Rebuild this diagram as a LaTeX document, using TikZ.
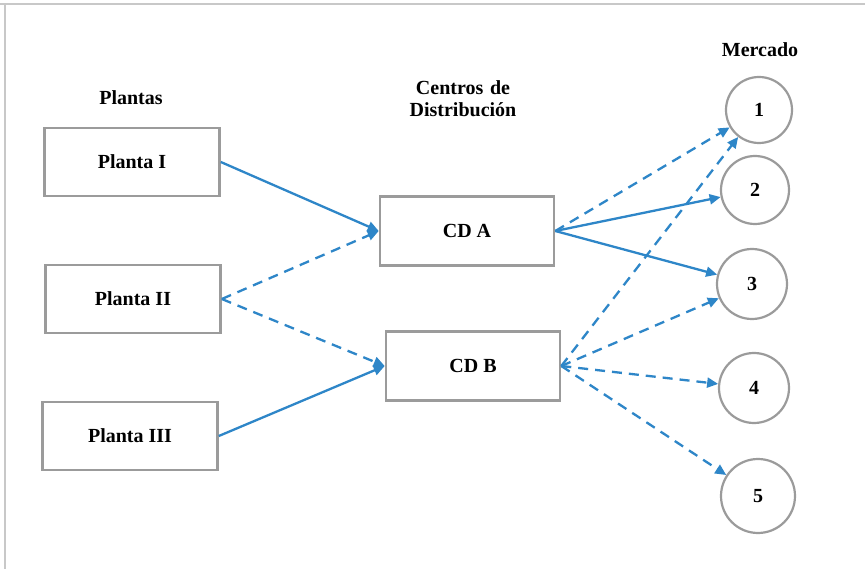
\documentclass[tikz,border=0pt]{standalone}
\usepackage{fontspec}
\setmainfont{Liberation Serif}
\usetikzlibrary{arrows.meta}
\definecolor{flow}{RGB}{46,134,200}
\definecolor{frame}{RGB}{155,155,155}
\definecolor{edge}{RGB}{200,200,200}
\begin{document}
\begin{tikzpicture}[x=1pt,y=-1pt,
  lbl/.style={font=\fontsize{20}{22}\selectfont\bfseries, align=center},
  box/.style={draw=frame, line width=2.6pt, fill=white, minimum width=175pt, minimum height=68pt, inner sep=0pt, lbl},
  mkt/.style={circle, draw=frame, line width=2.2pt, fill=white, inner sep=0pt, lbl},
  route/.style={draw=flow, line width=2.3pt, -{Triangle[length=11pt,width=10pt]}},
  alt/.style={route, dash pattern=on 10pt off 7pt}]
\useasboundingbox (0,0) rectangle (865,569);
\fill[white] (0,0) rectangle (865,569);
% page edges
\draw[edge, line width=2pt] (0,4) -- (865,4);
\draw[edge, line width=2pt] (5,4) -- (5,569);

% column headings
\node[lbl] (hplant) at (131,98) {Plantas};
\node[lbl, text width=160pt] (hcd) at (463,99) {Centros de\\Distribución};
\node[lbl] (hmkt) at (760,50) {Mercado};

% plants
\node[box] (p1) at (132,162) {Planta I};
\node[box] (p2) at (133,299) {Planta II};
\node[box] (p3) at (130,436) {Planta III};

% distribution centres
\node[box, minimum width=174pt, minimum height=69pt] (cda) at (467,231) {CD A};
\node[box, minimum width=174pt, minimum height=69pt] (cdb) at (473,366) {CD B};

% markets
\node[mkt, minimum size=66pt] (m1) at (759,110) {1};
\node[mkt, minimum size=68pt] (m2) at (755,190) {2};
\node[mkt, minimum size=70pt] (m3) at (752,284) {3};
\node[mkt, minimum size=70pt] (m4) at (754,388) {4};
\node[mkt, minimum size=74pt] (m5) at (758,496) {5};

% plants to centres
\draw[route] (p1.east) -- (cda.west);
\draw[alt] (p2.east) -- (cda.west);
\draw[alt] (p2.east) -- (cdb.west);
\draw[route] (p3.east) -- (cdb.west);

% centres to markets
\draw[alt] (cda.east) -- (m1);
\draw[route] (cda.east) -- (m2);
\draw[route] (cda.east) -- (m3);
\draw[alt] (cdb.east) -- (m1);
\draw[alt] (cdb.east) -- (m3);
\draw[alt] (cdb.east) -- (m4);
\draw[alt] (cdb.east) -- (m5);
\end{tikzpicture}
\end{document}
